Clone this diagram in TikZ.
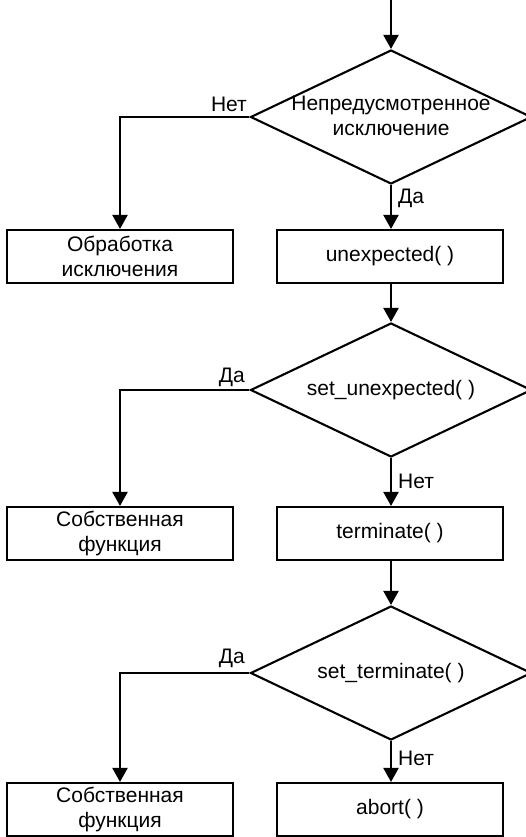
\documentclass[tikz,border=0pt]{standalone}
\usepackage{fontspec}
\setmainfont{Liberation Sans}
\usetikzlibrary{shapes.geometric,arrows.meta}
\begin{document}
\begin{tikzpicture}[x=1pt,y=-1pt,
  every node/.style={font=\fontsize{21}{25}\selectfont},
  arr/.style={line width=2.1pt, -{Triangle[width=15pt,length=14pt]}},
  decision/.style={diamond, draw, line width=2.1pt, aspect=2.08, minimum width=281pt, minimum height=134pt, inner sep=0pt},
  dtext/.style={align=center, inner sep=0pt},
  procbox/.style={rectangle, draw, line width=2.1pt, minimum width=226pt, minimum height=53pt, inner sep=0pt, align=center},
  lbl/.style={inner sep=0pt}]
\useasboundingbox (0,0) rectangle (526,837);
\coordinate (start) at (391,0);
\node[decision] (d1) at (391,117) {};
\node[dtext] (t1) at ([yshift=1pt]d1.center) {Непредусмотренное\\исключение};
\node[procbox] (b1l) at (120,256.5) {Обработка\\исключения};
\node[procbox] (b1r) at (390,256.5) {unexpected( )};
\node[decision] (d2) at (391,390) {};
\node[dtext] (t2) at (d2.center) {set\_unexpected( )};
\node[procbox] (b2l) at (120,533.5) {Собственная\\функция};
\node[procbox] (b2r) at (390,533.5) {terminate( )};
\node[decision] (d3) at (391,673) {};
\node[dtext] (t3) at (d3.center) {set\_terminate( )};
\node[procbox] (b3l) at (120,809.5) {Собственная\\функция};
\node[procbox] (b3r) at (390,809.5) {abort( )};

\draw[arr] (start) -- (d1.north);
\draw[arr] (d1.west) -| (b1l.north);
\draw[arr] (d1.south) -- (d1.south |- b1r.north);
\draw[arr] (b1r.south -| d2.north) -- (d2.north);
\draw[arr] (d2.west) -| (b2l.north);
\draw[arr] (d2.south) -- (d2.south |- b2r.north);
\draw[arr] (b2r.south -| d3.north) -- (d3.north);
\draw[arr] (d3.west) -| (b3l.north);
\draw[arr] (d3.south) -- (d3.south |- b3r.north);

\node[lbl, anchor=base east] (l1) at (247,112) {Нет};
\node[lbl, anchor=base west] (l2) at (398,203) {Да};
\node[lbl, anchor=base east] (l3) at (245,382) {Да};
\node[lbl, anchor=base west] (l4) at (398,488) {Нет};
\node[lbl, anchor=base east] (l5) at (245,663) {Да};
\node[lbl, anchor=base west] (l6) at (398,765) {Нет};
\end{tikzpicture}
\end{document}
